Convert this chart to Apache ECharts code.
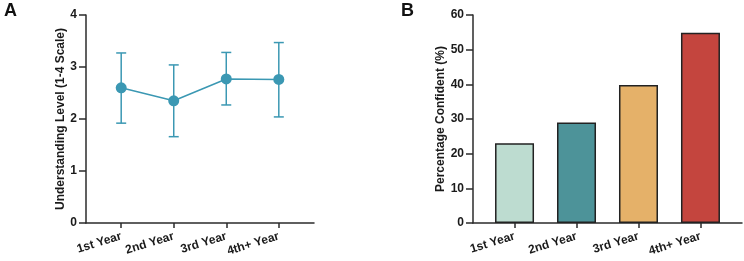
<!DOCTYPE html>
<html>
<head>
<meta charset="utf-8">
<title>Understanding and confidence by year</title>
<script src="https://cdn.jsdelivr.net/npm/echarts@6/dist/echarts.min.js"></script>
<style>
  html, body { margin: 0; padding: 0; background: #fff; }
  #main { width: 744px; height: 261px; }
</style>
</head>
<body>
<div id="main"></div>
<script>
// categories shared by both panels
var years = ['1st Year', '2nd Year', '3rd Year', '4th+ Year'];

// panel A: mean understanding level with error bars
var meanLevel = [2.60, 2.35, 2.77, 2.76];
var errLow    = [1.92, 1.66, 2.27, 2.04];
var errHigh   = [3.27, 3.04, 3.28, 3.47];

// panel B: percentage confident
var pctConfident = [23.0, 29.0, 39.8, 54.9];
var barColors = ['#bddcd0', '#4d9399', '#e5b169', '#c4453e'];

var lineColor = '#3b98b3';
var axisColor = '#2b2b2b';
var font = 'Arial, "Liberation Sans", sans-serif';

var chart = echarts.init(document.getElementById('main'));

function xAxisFor(gridIndex) {
    return {
        type: 'value',
        gridIndex: gridIndex,
        min: -0.67,
        max: 3.67,
        splitLine: { show: false },
        axisLine: { onZero: false, lineStyle: { color: axisColor, width: 1.5 } },
        axisTick: { customValues: [0, 1, 2, 3], length: 5, lineStyle: { color: axisColor, width: 1.5 } },
        axisLabel: {
            customValues: [0, 1, 2, 3],
            rotate: 17,
            margin: 13,
            color: '#1a1a1a',
            fontWeight: 'bold',
            fontSize: 12,
            fontFamily: font,
            formatter: function (v) { return years[Math.round(v)]; }
        }
    };
}

function yAxisFor(gridIndex, max, interval, name, gap) {
    return {
        type: 'value',
        gridIndex: gridIndex,
        min: 0,
        max: max,
        interval: interval,
        name: name,
        nameLocation: 'middle',
        nameGap: gap,
        nameTextStyle: { color: '#1a1a1a', fontWeight: 'bold', fontSize: 12, fontFamily: font },
        splitLine: { show: false },
        axisLine: { show: true, onZero: false, lineStyle: { color: axisColor, width: 1.5 } },
        axisTick: { show: true, length: 7, lineStyle: { color: axisColor, width: 1.5 } },
        axisLabel: { color: '#1a1a1a', fontWeight: 'bold', fontSize: 12, fontFamily: font, margin: 9 }
    };
}

var option = {
    animation: false,
    backgroundColor: '#fff',
    title: [
        { text: 'A', left: -1, top: -3, textStyle: { fontSize: 18, fontWeight: 'bold', color: '#111', fontFamily: font } },
        { text: 'B', left: 396, top: -3, textStyle: { fontSize: 18, fontWeight: 'bold', color: '#111', fontFamily: font } }
    ],
    grid: [
        { left: 86, right: 430, top: 15, bottom: 38 },
        { left: 473, right: 2, top: 15, bottom: 38 }
    ],
    xAxis: [xAxisFor(0), xAxisFor(1)],
    yAxis: [
        yAxisFor(0, 4, 1, 'Understanding Level (1-4 Scale)', 17),
        yAxisFor(1, 60, 10, 'Percentage Confident (%)', 25)
    ],
    series: [
        {
            type: 'custom',
            xAxisIndex: 0,
            yAxisIndex: 0,
            data: years.map(function (y, i) { return [i, errLow[i], errHigh[i]]; }),
            renderItem: function (params, api) {
                var lo = api.coord([api.value(0), api.value(1)]);
                var hi = api.coord([api.value(0), api.value(2)]);
                var w = 5;
                var st = { stroke: lineColor, lineWidth: 1.5 };
                return {
                    type: 'group',
                    children: [
                        { type: 'line', shape: { x1: lo[0], y1: lo[1], x2: hi[0], y2: hi[1] }, style: st },
                        { type: 'line', shape: { x1: lo[0] - w, y1: lo[1], x2: lo[0] + w, y2: lo[1] }, style: st },
                        { type: 'line', shape: { x1: hi[0] - w, y1: hi[1], x2: hi[0] + w, y2: hi[1] }, style: st }
                    ]
                };
            },
            z: 2
        },
        {
            type: 'line',
            xAxisIndex: 0,
            yAxisIndex: 0,
            data: meanLevel.map(function (v, i) { return [i, v]; }),
            symbol: 'circle',
            symbolSize: 11,
            lineStyle: { color: lineColor, width: 1.5 },
            itemStyle: { color: lineColor },
            z: 3
        },
        {
            type: 'bar',
            xAxisIndex: 1,
            yAxisIndex: 1,
            barWidth: 39,
            data: pctConfident.map(function (v, i) {
                return { value: [i, v], itemStyle: { color: barColors[i] } };
            }),
            itemStyle: { borderColor: '#222', borderWidth: 1.5 }
        }
    ]
};

chart.setOption(option);
</script>
</body>
</html>
